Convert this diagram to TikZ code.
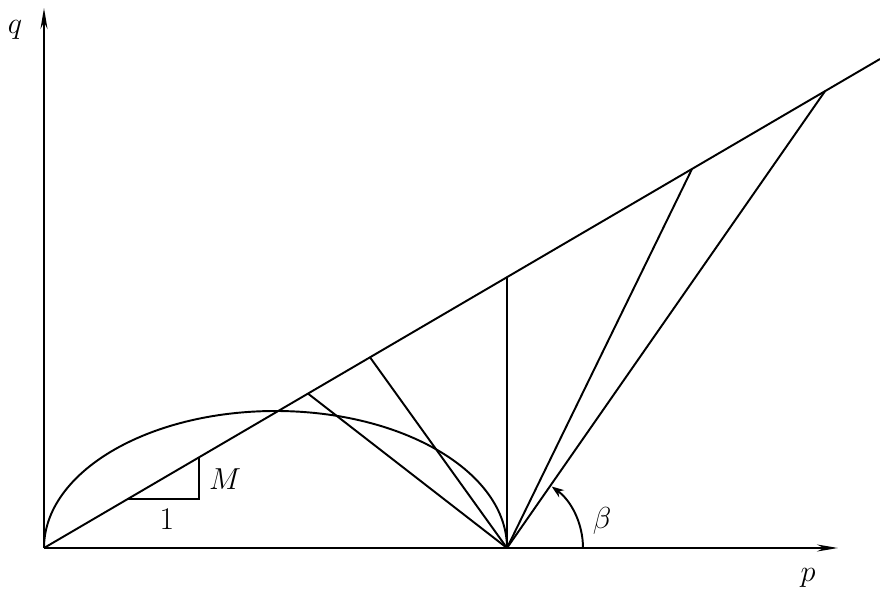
\documentclass[tikz,border=0pt]{standalone}
\usetikzlibrary{arrows.meta}

\begin{document}
\begin{tikzpicture}[x=0.02cm,y=0.02cm,line width=1.1pt,
  lab/.style={font=\fontsize{18}{21}\selectfont}]
\useasboundingbox (-44,-44) rectangle (836,548);
\coordinate (O) at (0,0);
\coordinate (pend) at (794,0);
\coordinate (qend) at (0,540);
\coordinate (P) at (463,0);
\coordinate (csl) at (836,489);
% points on the line q = M p
\coordinate (c1) at (264,154.4);
\coordinate (c2) at (326,190.7);
\coordinate (c3) at (463,270.8);
\coordinate (c4) at (648,379.0);
\coordinate (c5) at (781,456.8);
\coordinate (t1) at (84,49.1);
\coordinate (t2) at (155,90.7);
\draw[-{Stealth[length=12pt,width=4pt]}] (O) -- (pend);
\draw[-{Stealth[length=12pt,width=4pt]}] (O) -- (qend);
\draw (O) -- (csl);
\draw (O) arc[start angle=180,end angle=0,x radius=231.5,y radius=137];
\foreach \c in {c1,c2,c3,c4,c5}
  \draw (P) -- (\c);
\draw (t1) -| (t2);
\draw[-{Stealth[length=7pt,width=5pt]}] ([shift={(76,0)}]P) arc[start angle=0,end angle=54,radius=76];
\node[lab] (qlab) at (-29,518) {$q$};
\node[lab] (plab) at (764,-30) {$p$};
\node[lab] (Mlab) at (181,69) {$M$};
\node[lab] (onelab) at (123,29) {1};
\node[lab] (blab) at (558,27) {$\beta$};
\end{tikzpicture}
\end{document}
